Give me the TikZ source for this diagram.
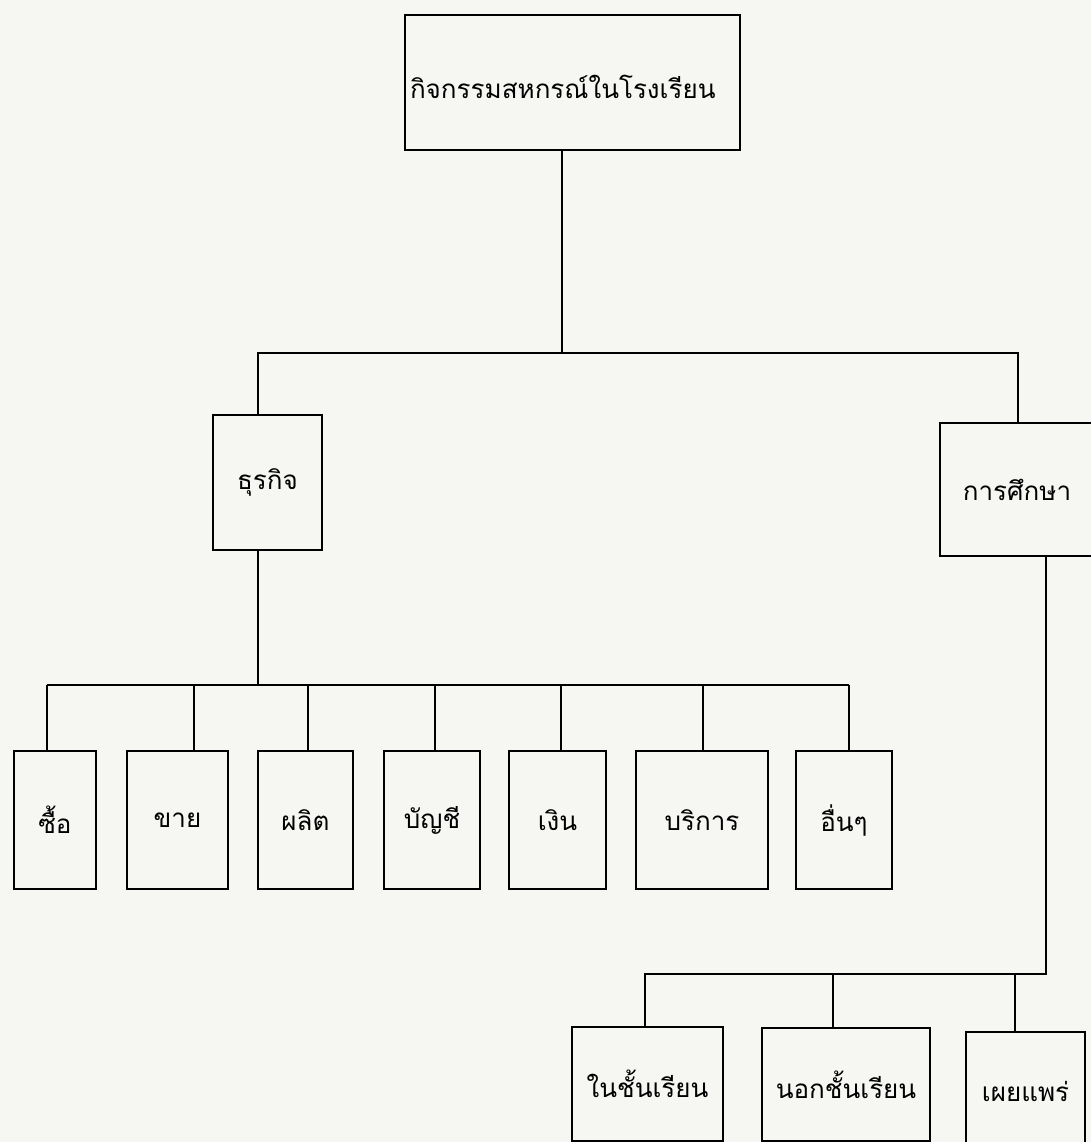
\documentclass[tikz,border=0pt]{standalone}
\usepackage{fontspec}
\newfontfamily\thaifont[Script=Thai]{Loma}
\usetikzlibrary{positioning}
\definecolor{paper}{RGB}{246,246,243}
\tikzset{
  unit/.style={draw, line width=2.4pt, inner sep=0pt, font=\thaifont\fontsize{26}{30}\selectfont},
  link/.style={line width=2.4pt}
}

\begin{document}
\begin{tikzpicture}[x=1pt,y=-1pt]
  \fill[paper] (0,0) rectangle (1091,1142);
  \useasboundingbox (0,0) rectangle (1091,1142);
  % top level
  \node[unit, minimum width=335, minimum height=135, text width=325, align=left,
        text height=36pt, text depth=4pt] (coop) at (572.5,82.5) {กิจกรรมสหกรณ์ในโรงเรียน};
  \node[unit, minimum width=109, minimum height=135] (biz) at (267.5,482.5) {ธุรกิจ};
  \node[unit, minimum width=154, minimum height=133] (edu) at (1017,489.5) {การศึกษา};
  \coordinate (j1) at (562,353);
  \coordinate (bus1w) at (258,353);
  \coordinate (bus1e) at (1018,353);
  \draw[link] (coop.south -| j1) -- (j1);
  \draw[link] (biz.north -| bus1w) -- (bus1w) -- (bus1e) -- (edu.north -| bus1e);
  % business branches
  \coordinate (bus2) at (258,685);
  \draw[link] (biz.south -| bus2) -- (bus2);
  \foreach \n/\cx/\w/\vx/\t in {1/55/82/47/ซื้อ, 2/177.5/101/194/ขาย, 3/305.5/95/308/ผลิต,
      4/432/96/435/บัญชี, 5/557.5/97/561/เงิน, 6/702/132/703/บริการ, 7/844/96/849/อื่นๆ}{
    \node[unit, minimum width=\w, minimum height=138] (b\n) at (\cx,820) {\t};
    \coordinate (t\n) at (\vx,685);
    \draw[link] (t\n) -- (b\n.north -| t\n);
  }
  \draw[link] (t1) -- (t7);
  % education branches
  \node[unit, minimum width=151, minimum height=114] (inclass) at (647.5,1084) {ในชั้นเรียน};
  \node[unit, minimum width=168, minimum height=113] (outclass) at (846,1084.5) {นอกชั้นเรียน};
  \node[unit, minimum width=119, minimum height=118] (spread) at (1025.5,1091) {เผยแพร่};
  \coordinate (u1) at (645,974);
  \coordinate (u2) at (833,974);
  \coordinate (u3) at (1015,974);
  \coordinate (u4) at (1046,974);
  \draw[link] (edu.south -| u4) -- (u4) -- (u1) -- (inclass.north -| u1);
  \draw[link] (u2) -- (outclass.north -| u2);
  \draw[link] (u3) -- (spread.north -| u3);
\end{tikzpicture}
\end{document}
